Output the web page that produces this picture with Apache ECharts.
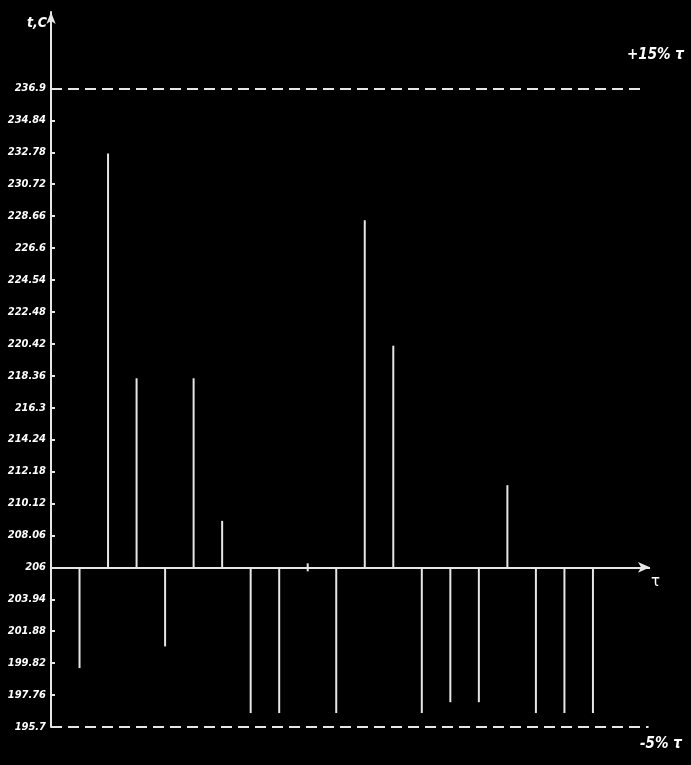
<!DOCTYPE html>
<html>
<head>
<meta charset="utf-8">
<script src="https://cdn.jsdelivr.net/npm/echarts@6/dist/echarts.min.js"></script>
<style>
  html, body { margin: 0; padding: 0; background: #000; }
  #main { width: 691px; height: 765px; }
</style>
</head>
<body>
<div id="main"></div>
<script>
// measurement points and their temperatures
var positions = [1, 2, 3, 4, 5, 6, 7, 8, 9, 10, 11, 12, 13, 14, 15, 16, 17, 18, 19];
var temps = [199.5, 232.7, 218.2, 200.9, 218.2, 209.0, 196.6, 196.6, 206, 196.6,
  228.4, 220.3, 196.6, 197.3, 197.3, 211.3, 196.6, 196.6, 196.6];
var tickLabels = ["195.7", "197.76", "199.82", "201.88", "203.94", "206", "208.06",
  "210.12", "212.18", "214.24", "216.3", "218.36", "220.42", "222.48", "224.54",
  "226.6", "228.66", "230.72", "232.78", "234.84", "236.9"];
var rated = 206;     // tau
var upper = 236.9;   // +15%
var lower = 195.7;   // -5%

var tickValues = tickLabels.map(Number);
var seriesData = positions.map(function (p, i) { return [p, temps[i]]; });

var chart = echarts.init(document.getElementById("main"));
var white = "#e6e6e6";
var labelFont = {
  color: "#fff",
  fontFamily: "DejaVu Sans Condensed",
  fontWeight: "bold",
  fontStyle: "italic",
  fontSize: 11
};

chart.setOption({
  backgroundColor: "#000",
  animation: false,
  grid: {
    left: 51,
    right: 41,
    top: 12,
    bottom: 38
  },
  xAxis: {
    type: "value",
    min: 0,
    max: 21,
    show: false
  },
  yAxis: {
    type: "value",
    min: lower,
    max: 241.83,
    splitLine: { show: false },
    axisLine: {
      show: true,
      symbol: ["none", "arrow"],
      symbolSize: [7, 12],
      lineStyle: { color: white, width: 2 }
    },
    axisTick: {
      show: true,
      inside: true,
      length: 4,
      customValues: tickValues,
      lineStyle: { color: white, width: 2 }
    },
    axisLabel: Object.assign({
      margin: 5,
      customValues: tickValues,
      formatter: function (v) {
        var i = tickValues.indexOf(v);
        return i >= 0 ? tickLabels[i] : "";
      }
    }, labelFont)
  },
  graphic: [
    { type: "text", left: 27, top: 16,
      style: { text: "t,C", fill: "#fff", font: "italic bold 14px 'DejaVu Sans Condensed'" } },
    { type: "text", left: 627, top: 48,
      style: { text: "+15% τ", fill: "#fff", font: "italic bold 15px 'DejaVu Sans Condensed'" } },
    { type: "text", left: 640, top: 737,
      style: { text: "-5% τ", fill: "#fff", font: "italic bold 15px 'DejaVu Sans Condensed'" } },
    { type: "text", left: 651, top: 575,
      style: { text: "τ", fill: "#fff", font: "15px 'DejaVu Sans'" } }
  ],
  series: [
    {
      type: "custom",
      clip: false,
      data: seriesData,
      renderItem: function (params, api) {
        var x = api.value(0);
        var p0 = api.coord([x, rated]);
        var p1 = api.coord([x, api.value(1)]);
        if (Math.abs(p1[1] - p0[1]) < 1) {
          // value equal to rated: short tick across the axis
          p0[1] -= 4;
          p1[1] += 4;
        }
        return {
          type: "line",
          shape: { x1: p0[0], y1: p0[1], x2: p1[0], y2: p1[1] },
          style: { stroke: white, lineWidth: 2 }
        };
      },
      markLine: {
        silent: true,
        symbol: "none",
        label: { show: false },
        data: [
          [
            { coord: [0, rated], symbol: "none", lineStyle: { type: "solid", width: 2, color: white } },
            { coord: [21, rated], symbol: "arrow", symbolSize: [8, 12] }
          ],
          [
            { coord: [0, upper], lineStyle: { type: [11, 6], width: 2, color: white } },
            { coord: [20.72, upper] }
          ],
          [
            { coord: [0, lower], lineStyle: { type: [11, 6], width: 2, color: white } },
            { coord: [20.95, lower] }
          ]
        ]
      }
    }
  ]
});

window.onresize = function () {
  chart.resize();
};
</script>
</body>
</html>
